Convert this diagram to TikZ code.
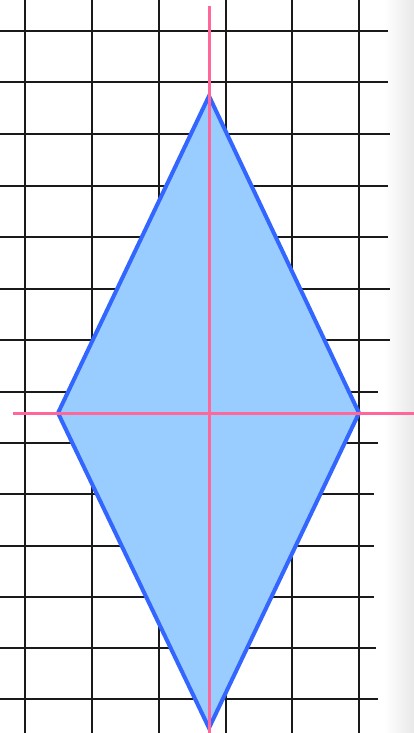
\documentclass[tikz,border=0pt]{standalone}
\usetikzlibrary{calc}
\definecolor{gridblack}{HTML}{1A1A1A}
\definecolor{rhombusedge}{HTML}{3366FF}
\definecolor{rhombusfill}{HTML}{99CCFF}
\definecolor{axispink}{HTML}{FF6699}
\tikzset{
  gridline/.style={draw=gridblack, line width=2pt},
  rhombus/.style={draw=rhombusedge, fill=rhombusfill, line width=4pt, line join=miter},
  axisline/.style={draw=axispink, line width=3pt},
}
\begin{document}
\begin{tikzpicture}[x=1pt,y=-1pt]
\useasboundingbox (0,0) rectangle (414,733);
\fill[white] (0,0) rectangle (414,733);
\shade[left color=white, right color=black!9] (384,0) rectangle (414,733);
% vertical grid lines
\foreach \x in {25,92,159,226,292,359}
  \draw[gridline] (\x,0) -- (\x,733);
% horizontal grid lines
\foreach \y/\e in {31/388,82.5/388,134/390,185.5/388,237/388,288.5/390,340/390,391.5/378,442.5/378,494/374,545.5/374,596.5/374,648/376,699/378}
  \draw[gridline] (0,\y) -- (\e,\y);
% rhombus
\coordinate (T) at (209,96);
\coordinate (L) at (58,413);
\coordinate (R) at (359,413);
\coordinate (B) at (209,728);
\draw[rhombus] (T) -- (R) -- (B) -- (L) -- cycle;
% axes of symmetry
\coordinate (vtop) at (209,6);
\coordinate (vbot) at (209,733);
\coordinate (hl) at (13,413);
\coordinate (hr) at (414,413);
\draw[axisline] (vtop) -- (vbot);
\draw[axisline] (hl) -- (hr);
\end{tikzpicture}
\end{document}
